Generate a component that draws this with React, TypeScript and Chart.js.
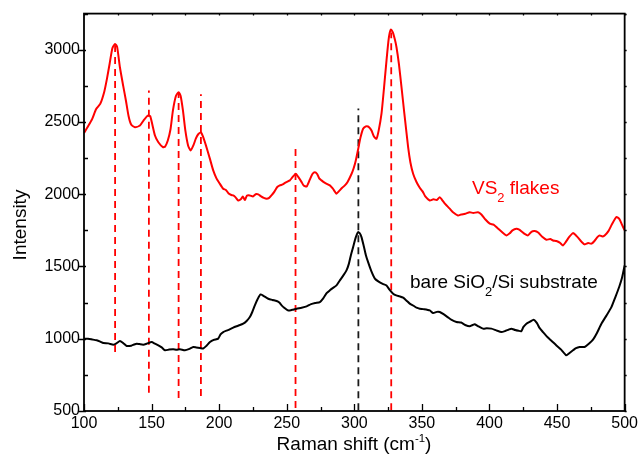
import React, { useEffect, useRef } from "react";
import { Chart, registerables } from "chart.js";

Chart.register(...registerables);

const FONT = '"Liberation Sans", Arial, Helvetica, sans-serif';

// Axis ranges / ticks
const X_MIN = 100;
const X_MAX = 500;
const X_MAJOR = 50;
const X_MINOR = 25;
const Y_MIN = 500;
const Y_MAX = 3250;
const Y_MAJOR = 500;
const Y_MINOR = 250;

// VS2 flakes spectrum [Raman shift, intensity]
const vs2Flakes: [number, number][] = [
  [100, 2423], [103, 2470], [106, 2520], [109, 2590], [112, 2625], [115, 2710], [117, 2800], [119, 2905],
  [121, 3010], [123, 3040], [124.5, 3020], [126.6, 2877], [129, 2750], [131, 2649], [133, 2540], [135, 2480],
  [137.7, 2464], [141.4, 2476], [144, 2510], [147.3, 2545], [149, 2540], [152.5, 2406], [155, 2360], [158.4, 2326],
  [160, 2330], [162, 2372], [164, 2450], [165.8, 2580], [168, 2680], [170, 2706], [171.5, 2680], [173.2, 2580],
  [175, 2440], [177, 2338], [178.9, 2303], [181, 2340], [182.8, 2386], [184.5, 2415], [186.5, 2427], [188, 2400],
  [190.2, 2338], [193, 2250], [195.6, 2165], [198, 2110], [200, 2080], [203, 2038], [205, 2030], [207, 2005],
  [209, 1995], [210.4, 1992], [212, 1980], [214.1, 1957], [216, 1965], [217.5, 1985], [219, 1960], [220.5, 1990],
  [222.7, 1992], [225, 1985], [227, 2000], [228.9, 1999], [231, 1985], [233, 1975], [235.1, 1969], [237, 1975],
  [239, 1995], [241, 2020], [243, 2050], [244.9, 2061], [247, 2068], [249, 2080], [252.3, 2096], [254, 2115],
  [256.7, 2142], [258.5, 2120], [261, 2084], [262.5, 2060], [264.7, 2054], [267, 2100], [269, 2140], [270.8, 2153],
  [272.5, 2140], [274, 2110], [275.7, 2096], [278, 2080], [281.9, 2061], [284, 2040], [285.5, 2020], [286.8, 2004],
  [288.5, 2020], [291, 2045], [293, 2061], [295, 2085], [297.9, 2140], [299.5, 2180], [301, 2230], [302.8, 2310],
  [304.5, 2390], [306.5, 2453], [308.5, 2470], [310.2, 2469], [311.5, 2458], [312.7, 2441], [314.5, 2400], [316.4, 2384],
  [318, 2440], [320.1, 2557], [322, 2740], [323.8, 2925], [325.5, 3080], [327, 3140], [328.5, 3120], [330, 3070],
  [331.2, 3017], [333, 2900], [334.9, 2741], [337, 2560], [339.8, 2326], [341.5, 2220], [343.5, 2142], [346, 2085],
  [348.4, 2045], [350.5, 2020], [352.5, 1985], [355.8, 1957], [358.5, 1965], [361, 1960], [363.2, 1980], [365, 1960],
  [367, 1935], [370.6, 1900], [373, 1875], [376.7, 1853], [379, 1860], [382, 1865], [385.4, 1876], [388, 1870],
  [391.5, 1876], [394, 1860], [397, 1825], [400.2, 1796], [403, 1790], [406, 1765], [409, 1740], [412.5, 1715],
  [415, 1730], [417, 1750], [419.9, 1761], [422, 1755], [424, 1740], [426, 1725], [428.5, 1715], [431, 1740],
  [433.5, 1745], [436, 1735], [439, 1705], [442.1, 1685], [445, 1690], [447, 1680], [449.5, 1676], [452, 1665],
  [454.4, 1646], [456.5, 1670], [459, 1705], [461.8, 1731], [464, 1715], [466, 1695], [468, 1672], [470.4, 1653],
  [473, 1662], [475.4, 1658], [477.5, 1675], [480, 1705], [481.5, 1715], [483.5, 1708], [485.2, 1715], [488, 1745],
  [490.5, 1790], [493.9, 1842], [496, 1830], [498, 1790], [500, 1750],
];

// bare SiO2/Si substrate spectrum [Raman shift, intensity]
const substrate: [number, number][] = [
  [100, 1001], [103, 1000], [106, 995], [109.4, 989], [112, 980], [114.3, 970], [118, 968], [121.7, 959],
  [124, 968], [126.6, 984], [129, 970], [131.6, 950], [135, 952], [137, 960], [139, 966], [141, 963],
  [143.8, 959], [147, 968], [150, 977], [152.5, 966], [155, 954], [157.5, 940], [159.9, 920], [163, 925],
  [166, 927], [168.5, 924], [171, 927], [174.7, 920], [178, 930], [180.8, 943], [183, 940], [185.8, 936],
  [188.2, 932], [190.5, 950], [193.2, 977], [196, 992], [199.3, 1001], [201, 1030], [203, 1046], [206.5, 1060],
  [210.4, 1077], [214, 1090], [217.8, 1104], [220.5, 1125], [222.7, 1150], [224.5, 1185], [226.4, 1231], [228.5, 1275],
  [230.6, 1307], [233, 1295], [236.3, 1277], [239.5, 1268], [242.5, 1261], [244.5, 1250], [246.2, 1231], [248.5, 1212],
  [251.1, 1196], [254, 1200], [257.3, 1208], [261, 1215], [264.7, 1224], [268, 1240], [271, 1248], [274.5, 1254],
  [277, 1280], [279.5, 1315], [281.9, 1335], [284, 1350], [286.8, 1369], [289, 1400], [292, 1440], [294.2, 1473],
  [296, 1520], [297.5, 1580], [299.1, 1634], [301, 1700], [302.8, 1738], [304, 1730], [305.3, 1703], [307, 1640],
  [308.5, 1580], [310.2, 1530], [312.5, 1470], [315.2, 1416], [318, 1395], [321, 1380], [323.8, 1369], [326, 1340],
  [328.7, 1312], [331, 1300], [333.5, 1293], [336.1, 1284], [338.5, 1265], [341, 1243], [343.5, 1230], [346, 1215],
  [348.4, 1208], [351, 1205], [355.8, 1196], [358.3, 1178], [361, 1186], [363.2, 1185], [366, 1170], [369, 1150],
  [372, 1130], [375.6, 1116], [379, 1112], [382, 1095], [385.4, 1086], [387.5, 1095], [389.1, 1100], [392, 1085],
  [395.2, 1070], [398, 1072], [401.4, 1070], [405, 1058], [408.8, 1046], [412, 1055], [414, 1062], [416.2, 1070],
  [419, 1060], [421.5, 1055], [423.6, 1053], [425, 1080], [427.3, 1104], [430, 1118], [432.7, 1132], [435, 1110],
  [437, 1075], [439.6, 1046], [443, 1010], [446, 985], [449.5, 954], [453, 925], [456.9, 885], [459, 900],
  [461.8, 920], [464, 935], [466.7, 943], [470.4, 943], [473.5, 965], [476.6, 994], [479.5, 1040], [482.8, 1104],
  [486.5, 1160], [490.2, 1219], [493, 1285], [496, 1360], [498, 1420], [500, 1508],
];

// Dashed peak markers
const dashX = [123, 148, 170, 186.5, 256.5, 303, 327.3];
const dashTop = [3030, 2718, 2700, 2692, 2317, 2593, 3120];
const dashBottom = [908, 627, 590, 604, 520, 505, 505];
const dashColor = ["#ff0000", "#ff0000", "#ff0000", "#ff0000", "#ff0000", "#1a1a1a", "#ff0000"];

const RED = "#ff0000";

type Part = { t: string; s?: "sub" | "sup" };

function drawRich(
  ctx: CanvasRenderingContext2D,
  parts: Part[],
  x: number,
  y: number,
  size: number,
  color: string,
  align: "left" | "center" = "left"
) {
  ctx.fillStyle = color;
  ctx.textBaseline = "alphabetic";
  ctx.textAlign = "left";
  const sizes = parts.map((p) => (p.s === "sub" ? size * 0.68 : p.s === "sup" ? size * 0.6 : size));
  const widths = parts.map((p, i) => {
    ctx.font = `${sizes[i]}px ${FONT}`;
    return ctx.measureText(p.t).width;
  });
  const total = widths.reduce((a, b) => a + b, 0);
  let cx = align === "center" ? x - total / 2 : x;
  parts.forEach((p, i) => {
    ctx.font = `${sizes[i]}px ${FONT}`;
    const dy = p.s === "sub" ? size * 0.4 : p.s === "sup" ? -size * 0.42 : 0;
    ctx.fillText(p.t, cx, y + dy);
    cx += widths[i];
  });
}

const framePlugin = {
  id: "frameAndText",
  afterDraw(chart: any) {
    const { ctx, chartArea: a, scales } = chart;
    const xs = scales.x;
    const ys = scales.y;
    ctx.save();
    ctx.strokeStyle = "#000";
    ctx.lineWidth = 1.8;
    ctx.strokeRect(a.left, a.top, a.right - a.left, a.bottom - a.top);

    ctx.lineWidth = 1.3;
    ctx.beginPath();
    for (let v = X_MIN; v <= X_MAX; v += X_MINOR) {
      const px = Math.round(xs.getPixelForValue(v)) + 0.5;
      const major = v % X_MAJOR === 0;
      ctx.moveTo(px, a.bottom);
      ctx.lineTo(px, a.bottom - (major ? 7 : 4));
      ctx.moveTo(px, a.top);
      ctx.lineTo(px, a.top + 2);
    }
    for (let v = Y_MIN; v <= Y_MAX; v += Y_MINOR) {
      const py = Math.round(ys.getPixelForValue(v)) + 0.5;
      const major = v % Y_MAJOR === 0;
      if (major) {
        ctx.moveTo(a.left - 5, py);
        ctx.lineTo(a.left + 2, py);
      } else {
        ctx.moveTo(a.left, py);
        ctx.lineTo(a.left + 4, py);
      }
      ctx.moveTo(a.right, py);
      ctx.lineTo(a.right + 2, py);
    }
    ctx.stroke();

    // Annotations
    drawRich(ctx, [{ t: "VS" }, { t: "2", s: "sub" }, { t: " flakes" }], 472, 194, 19, RED);
    drawRich(
      ctx,
      [{ t: "bare SiO" }, { t: "2", s: "sub" }, { t: "/Si substrate" }],
      410,
      288,
      19,
      "#000"
    );

    // Axis titles
    drawRich(ctx, [{ t: "Raman shift (cm" }, { t: "-1", s: "sup" }, { t: ")" }], 354, 450, 19, "#000", "center");

    ctx.save();
    ctx.translate(26, 225);
    ctx.rotate(-Math.PI / 2);
    ctx.font = `19px ${FONT}`;
    ctx.fillStyle = "#000";
    ctx.textAlign = "center";
    ctx.textBaseline = "alphabetic";
    ctx.fillText("Intensity", 0, 0);
    ctx.restore();

    ctx.restore();
  },
};

export default function App() {
  const canvasRef = useRef<HTMLCanvasElement | null>(null);

  useEffect(() => {
    const canvas = canvasRef.current;
    if (!canvas) return;

    const dashSets = dashX.map((x, i) => ({
      label: `marker${i}`,
      data: [
        { x, y: dashBottom[i] },
        { x, y: dashTop[i] },
      ],
      borderColor: dashColor[i],
      borderWidth: 1.8,
      borderDash: [7, 5],
      pointRadius: 0,
      fill: false,
      tension: 0,
    }));

    const chart = new Chart(canvas, {
      type: "line",
      data: {
        datasets: [
          {
            label: "VS2 flakes",
            data: vs2Flakes.map(([x, y]) => ({ x, y })),
            borderColor: RED,
            borderWidth: 2,
            pointRadius: 0,
            tension: 0.2,
            fill: false,
          },
          {
            label: "bare SiO2/Si substrate",
            data: substrate.map(([x, y]) => ({ x, y })),
            borderColor: "#000",
            borderWidth: 2,
            pointRadius: 0,
            tension: 0.2,
            fill: false,
          },
          ...dashSets,
        ],
      },
      options: {
        animation: false,
        responsive: false,
        maintainAspectRatio: false,
        layout: { padding: { top: 13, right: 16, bottom: 0, left: 0 } },
        plugins: {
          legend: { display: false },
          tooltip: { enabled: false },
          title: { display: false },
        },
        scales: {
          x: {
            type: "linear",
            min: X_MIN,
            max: X_MAX,
            grid: { display: false, drawTicks: false, tickLength: 0 },
            border: { display: false },
            ticks: {
              stepSize: X_MINOR,
              autoSkip: false,
              maxRotation: 0,
              padding: 3,
              color: "#000",
              font: { family: FONT, size: 16 },
              callback: (v: any) => (Number(v) % X_MAJOR === 0 ? String(v) : ""),
            },
            afterFit: (scale: any) => {
              scale.height = 45;
            },
          },
          y: {
            type: "linear",
            min: Y_MIN,
            max: Y_MAX,
            grid: { display: false, drawTicks: false, tickLength: 0 },
            border: { display: false },
            ticks: {
              stepSize: Y_MINOR,
              autoSkip: false,
              padding: 4,
              color: "#000",
              font: { family: FONT, size: 16 },
              callback: (v: any) => (Number(v) % Y_MAJOR === 0 ? String(v) : ""),
            },
            afterFit: (scale: any) => {
              scale.width = 84;
            },
          },
        },
      },
      plugins: [framePlugin],
    });

    return () => {
      chart.destroy();
    };
  }, []);

  return (
    <div style={{ position: "absolute", left: 0, top: 0, width: 641, height: 456, background: "#fff" }}>
      <canvas ref={canvasRef} width={641} height={456} style={{ display: "block" }} />
    </div>
  );
}
